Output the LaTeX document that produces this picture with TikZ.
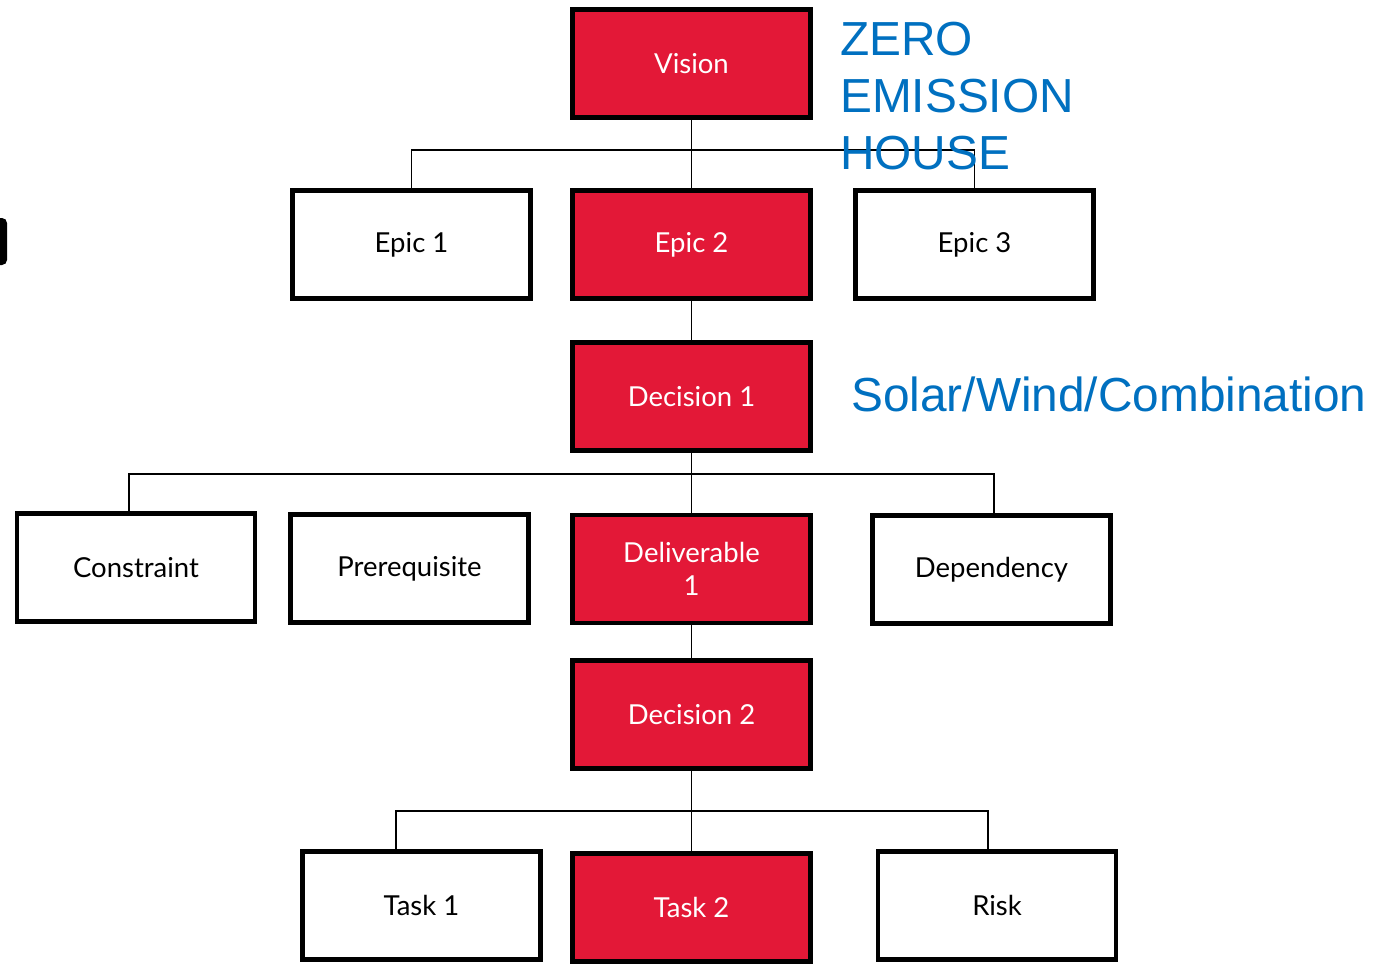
\documentclass[tikz,border=0pt]{standalone}
\usepackage{fontspec}
\setmainfont{Lato}
\newfontfamily\arialfont{Liberation Sans}
\definecolor{boxred}{RGB}{227,24,55}
\definecolor{titleblue}{RGB}{0,112,192}
\begin{document}
\begin{tikzpicture}[x=1pt,y=-1pt,
  box/.style={draw=black, line width=4.5pt, minimum width=238pt, minimum height=108pt,
     inner sep=0pt, font=\fontsize{27.5}{33}\selectfont, align=center},
  redbox/.style={box, fill=boxred, text=white},
  whitebox/.style={box, fill=white, text=black},
  conn/.style={draw=black, line width=1.8pt},
  bluetext/.style={text=titleblue, font=\arialfont\fontsize{47.8}{57}\selectfont, inner sep=0pt, anchor=base west, align=left}]
\useasboundingbox (0,0) rectangle (1376,964);
\fill[white] (0,0) rectangle (1376,964);
% left edge fragment
\fill[black, rounded corners=5pt] (-12,218) rectangle (7,265);

\coordinate (bus1) at (691.5,150);
\coordinate (bus2) at (691.5,474);
\coordinate (bus3) at (691.5,811);

\node[redbox] (vision) at (691.5,63.5) {Vision};
\node[whitebox] (epic1) at (411.5,244.5) {Epic 1};
\node[redbox] (epic2) at (691.5,244.5) {Epic 2};
\node[whitebox] (epic3) at (974.5,244.5) {Epic 3};
\node[redbox] (dec1) at (691.5,396.5) {Decision 1};
\node[whitebox] (constraint) at (136,567.5) {Constraint};
\node[whitebox] (prereq) at (409.5,568.5) {Prerequisite};
\node[redbox] (deliv) at (691.5,569) {Deliverable\\1};
\node[whitebox] (depend) at (991.5,569.5) {Dependency};
\node[redbox] (dec2) at (691.5,714.5) {Decision 2};
\node[whitebox] (task1) at (421.5,905.5) {Task 1};
\node[redbox] (task2) at (691.5,907.5) {Task 2};
\node[whitebox] (risk) at (997,905.5) {Risk};

\draw[conn] (vision.south) -- (epic2.north);
\draw[conn] (epic1.north) -- (epic1.north |- bus1) -- (epic3.north |- bus1) -- (epic3.north);
\draw[conn] (epic2.south) -- (dec1.north);
\draw[conn] (dec1.south) -- (deliv.north);
\draw[conn] ([xshift=-7pt]constraint.north) -- ([xshift=-7pt]constraint.north |- bus2) -- ([xshift=2.5pt]depend.north |- bus2) -- ([xshift=2.5pt]depend.north);
\draw[conn] (deliv.south) -- (dec2.north);
\draw[conn] (dec2.south) -- (task2.north);
\draw[conn] ([xshift=-25.5pt]task1.north) -- ([xshift=-25.5pt]task1.north |- bus3) -- ([xshift=-9pt]risk.north |- bus3) -- ([xshift=-9pt]risk.north);

\node[bluetext] (title) at (840,169) {ZERO\\EMISSION\\HOUSE};
\node[bluetext] (solar) at (851,411) {Solar/Wind/Combination};
\end{tikzpicture}
\end{document}
